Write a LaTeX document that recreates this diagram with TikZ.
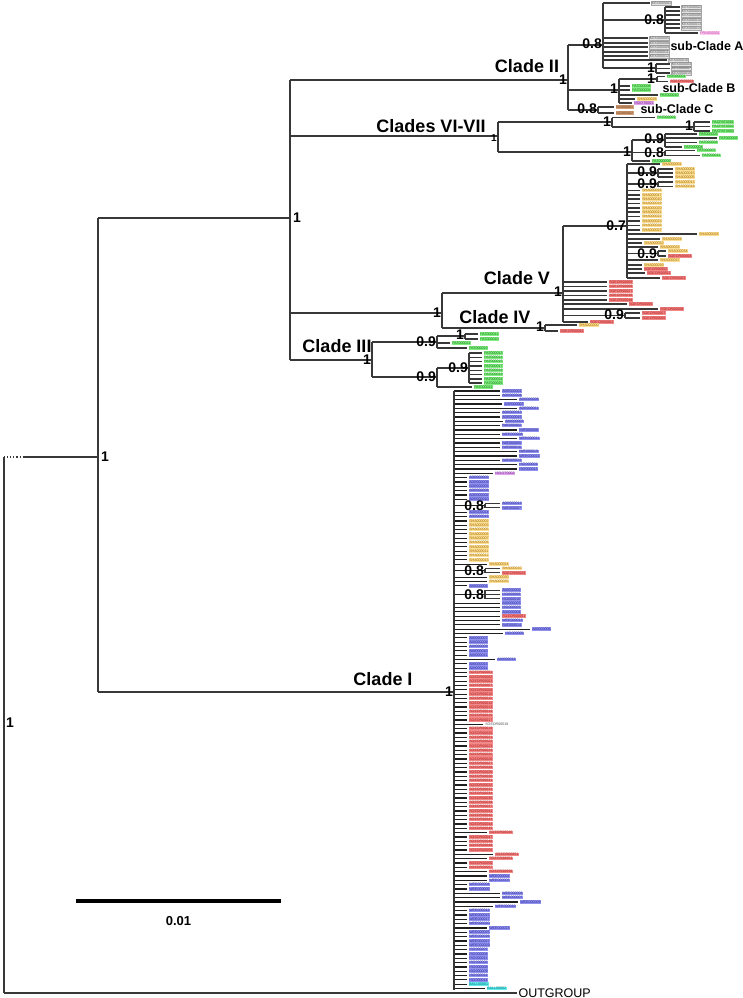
\documentclass[tikz,border=0pt]{standalone}
\usepackage{fontspec}
\setmainfont{Liberation Sans}
\definecolor{bF}{RGB}{146,146,240}\definecolor{bT}{RGB}{40,40,150}
\definecolor{rF}{RGB}{242,136,136}\definecolor{rT}{RGB}{170,20,20}
\definecolor{yF}{RGB}{252,222,150}\definecolor{yT}{RGB}{160,110,0}
\definecolor{gF}{RGB}{130,238,130}\definecolor{gT}{RGB}{20,120,20}
\definecolor{kF}{RGB}{228,228,228}\definecolor{kT}{RGB}{90,90,90}
\definecolor{pF}{RGB}{222,164,236}\definecolor{pT}{RGB}{120,40,140}
\definecolor{nF}{RGB}{212,162,122}\definecolor{nT}{RGB}{110,55,20}
\definecolor{cF}{RGB}{100,236,236}\definecolor{cT}{RGB}{0,110,120}
\definecolor{mF}{RGB}{250,205,240}\definecolor{mT}{RGB}{200,60,170}
\begin{document}
\begin{tikzpicture}[x=1pt,y=-1pt,
  br/.style={draw=black!78, line width=1.1pt},
  tb/.style={draw=black!88, line width=1.2pt},
  nl/.style={font=\fontsize{14}{14}\selectfont\bfseries, inner sep=0pt},
  nls/.style={font=\fontsize{10}{10}\selectfont\bfseries, inner sep=0pt},
  cl/.style={font=\fontsize{18}{18}\selectfont\bfseries, inner sep=0pt},
  scl/.style={font=\fontsize{12.5}{12.5}\selectfont\bfseries, inner sep=0pt},
  tl/.style={font=\fontsize{3.6}{3.6}\selectfont, inner sep=0.5pt, anchor=west, xshift=1.2pt},
  tBl/.style={tl, fill=bF, text=bT},
  tRd/.style={tl, fill=rF, text=rT},
  tYe/.style={tl, fill=yF, text=yT},
  tGr/.style={tl, fill=gF, text=gT},
  tGy/.style={tl, fill=kF, draw=gray!70, line width=0.3pt, text=kT},
  tPu/.style={tl, fill=pF, text=pT},
  tBn/.style={tl, fill=nF, text=nT},
  tCy/.style={tl, fill=cF, text=cT},
  tPk/.style={tl, fill=mF, text=mT},
  tWh/.style={tl, text=black!70}]
\useasboundingbox (0,0) rectangle (742,998);

% ---------- main nodes ----------
\coordinate (nRoot) at (4,725);
\coordinate (nIn) at (98,457);
\coordinate (nUp) at (290,218);
\coordinate (nII) at (568,80);
\coordinate (nVI) at (498,136);
\coordinate (nVIV) at (442,313);
\coordinate (nV) at (563,293);
\coordinate (nIV) at (545,328);
\coordinate (nIII) at (372,360);
\coordinate (nI) at (454,692);

% root
\draw[br] (4,457) -- (4,993);
\draw[br,dotted] (4,457) -- (24,457);
\draw[br] (24,457) -- (nIn);
\draw[br] (4,993) -- (517,993) node[anchor=west, inner sep=1pt, font=\fontsize{12.5}{12.5}\selectfont] (og) {OUTGROUP};
\node[nl, anchor=west] (lRoot) at (6,723) {1};

% ingroup
\draw[br] (98,218) -- (98,692);
\node[nl, anchor=west] (lIn) at (101,457) {1};
\draw[br] (98,218) -- (nUp);
\draw[br] (98,692) -- (nI);

% upper polytomy
\draw[br] (290,80) -- (290,360);
\node[nl, anchor=west] (lUp) at (293,218) {1};

% ---------- Clade II ----------
\draw[br] (290,80) -- (nII);
\node[cl] (tII) at (527,66) {Clade II};
\draw[br] (568,45) -- (568,110);
\node[nl, anchor=east] at (567,80) {1};
% sub-clade A
\draw[br] (568,45) -- (603,45);
\node[nl, anchor=east] at (602,44) {0.8};
\draw[br] (603,3) -- (603,68);
\draw[br] (603,3) -- (650,3) node[tGy] {KEX000001};
\draw[br] (603,20) -- (665,20);
\node[nl, anchor=east] at (664,20) {0.8};
\draw[br] (665,7) -- (665,33);
\foreach \y/\t in {7/KEX000002,11/KEX000004,15/KEX000006,20/KEX000010,24/KEX000013,28/KEX000014}
  \draw[br] (665,\y) -- (680,\y) node[tGy] {\t};
\draw[br] (665,33) -- (698,33) node[tPk] {PRN000001};
\foreach \y/\t in {38/KEX000005,43/KEX000008,47/KEX000009,52/KEX000011,56/KEX000012}
  \draw[br] (603,\y) -- (648,\y) node[tGy] {\t};
\draw[br] (603,60) -- (667,60) node[tGy] {KEX000016};
\draw[br] (603,68) -- (656,68);
\node[nl, anchor=east] at (655,68) {1};
\draw[br] (656,64) -- (656,73);
\foreach \y/\t in {64/KEX000003,68.5/KEX000007,73/KEX000015}
  \draw[br] (656,\y) -- (670,\y) node[tGy] {\t};
\node[scl] (tA) at (707,46) {sub-Clade A};
% sub-clade B
\draw[br] (568,90) -- (619,90);
\node[nl, anchor=east] at (618,89) {1};
\draw[br] (619,79) -- (619,103);
\draw[br] (619,79) -- (657,79);
\node[nl, anchor=east] at (655,79) {1};
\draw[br] (657,76.5) -- (657,81.5);
\draw[br] (657,76.5) -- (665,76.5) node[tGr] {PAT000001};
\draw[br] (657,81.5) -- (668,81.5) node[tRd] {SGEOR00003};
\draw[br] (619,86) -- (630,86) node[tGr] {PAT000008};
\draw[br] (619,90) -- (630,90) node[tGr] {PAT000005};
\draw[br] (619,95) -- (658,95) node[tGr] {PAT000010};
\draw[br] (619,99) -- (635,99) node[tYe] {SHA000028};
\draw[br] (619,103) -- (632,103) node[tPu] {ISOOT0001};
\node[scl] (tB) at (699,88.5) {sub-Clade B};
% sub-clade C
\draw[br] (568,110) -- (598,110);
\node[nl, anchor=east] at (597,109) {0.8};
\draw[br] (598,107) -- (598,113);
\draw[br] (598,107) -- (614,107) node[tBn] {NZ000001};
\draw[br] (598,113) -- (614,113) node[tBn] {NZ000002};
\node[scl] (tC) at (677,109.5) {sub-Clade C};

% ---------- Clades VI-VII ----------
\draw[br] (290,136) -- (nVI);
\node[cl] (tVI) at (431,126) {Clades VI-VII};
\node[nls, anchor=east] at (497,138) {1};
\draw[br] (498,122) -- (498,152);
\draw[br] (498,122) -- (612,122);
\node[nl, anchor=east] at (611,122) {1};
\draw[br] (612,117.5) -- (612,127);
\draw[br] (612,117.5) -- (655,117.5) node[tGr] {PAT000002};
\draw[br] (612,127) -- (694,127);
\node[nl, anchor=east] at (693,126) {1};
\draw[br] (694,122) -- (694,131);
\foreach \y/\t in {122/PACPAT0001,126.5/PACPAT0002,131/PACPAT0003}
  \draw[br] (694,\y) -- (710,\y) node[tGr] {\t};
\draw[br] (498,152) -- (632,152);
\node[nl, anchor=east] at (631,152) {1};
\draw[br] (632,140) -- (632,161);
\draw[br] (632,140) -- (665,140);
\node[nl, anchor=east] at (664,139) {0.9};
\draw[br] (665,134) -- (665,147);
\foreach \y/\e/\t in {134/697/PAT000003,138/717/PAT000006,142.5/697/PAT000008,147/682/PAT000004}
  \draw[br] (665,\y) -- (\e,\y) node[tGr] {\t};
\draw[br] (632,152.5) -- (665,152.5);
\node[nl, anchor=east] at (664,152.5) {0.8};
\draw[br] (665,150.5) -- (665,155.5);
\draw[br] (665,150.5) -- (695,150.5) node[tGr] {PAT000007};
\draw[br] (665,155.5) -- (700,155.5) node[tGr] {PAT000011};
\draw[br] (632,161) -- (650,161) node[tGr] {PAT000009};

% ---------- Clades V + IV ----------
\draw[br] (290,313) -- (nVIV);
\node[nl, anchor=east] at (441,313) {1};
\draw[br] (442,293) -- (442,328);
% Clade V
\draw[br] (442,293) -- (nV);
\node[cl] (tV) at (517,278) {Clade V};
\node[nl, anchor=east] at (562,292) {1};
\draw[br] (563,226) -- (563,322);
\draw[br] (563,226) -- (627,226);
\node[nl, anchor=east] at (626,226) {0.7};
\draw[br] (627,164) -- (627,278);
\foreach \y/\e/\s/\t in {164/660/tYe/SHA000001,
  190.5/640/tYe/SHA000016,195/640/tYe/SHA000017,199/640/tYe/SHA000010,203.5/640/tYe/SHA000019,
  208/640/tYe/SHA000020,212/640/tYe/SHA000021,216.5/640/tYe/SHA000022,221/640/tYe/SHA000023,
  225.5/640/tYe/SHA000026,230/640/tYe/SHA000027,
  234/697/tYe/SHA000028,239/660/tYe/SHA000029,243/642/tYe/SHA000032,247/658/tYe/SHA000033,
  260/658/tYe/SHA000037,265/642/tYe/SHA000039,269/642/tRd/SGEOR00002,273/645/tRd/SGEOR00001,
  278/660/tRd/SGEOR00003}
  \draw[br] (627,\y) -- (\e,\y) node[\s] {\t};
\draw[br] (627,173) -- (658,173);
\node[nl, anchor=east] at (657,172) {0.9};
\draw[br] (658,169) -- (658,177);
\foreach \y/\t in {169/SHA000004,173/SHA000015,177/SHA000005}
  \draw[br] (658,\y) -- (673,\y) node[tYe] {\t};
\draw[br] (627,184) -- (658,184);
\node[nl, anchor=east] at (657,183.5) {0.9};
\draw[br] (658,182) -- (658,186.5);
\foreach \y/\t in {182/SHA000013,186.5/SHA000018}
  \draw[br] (658,\y) -- (673,\y) node[tYe] {\t};
\draw[br] (627,253.5) -- (658,253.5);
\node[nl, anchor=east] at (657,254) {0.9};
\draw[br] (658,251) -- (658,256);
\draw[br] (658,251) -- (666,251) node[tYe] {SHA000034};
\draw[br] (658,256) -- (666,256) node[tRd] {SGEOR00004};
\foreach \y/\e/\t in {282/607/SGEOR00006,286.5/607/SGEOR00009,291/607/SGEOR00027,295.5/607/SGEOR00036,300/607/SGEOR00048,304/627/SGEOR00005,309/658/SGEOR00008,322/588/SGEOR00062}
  \draw[br] (563,\y) -- (\e,\y) node[tRd] {\t};
\draw[br] (563,315.5) -- (625,315.5);
\node[nl, anchor=east] at (624,314.5) {0.9};
\draw[br] (625,313) -- (625,318);
\draw[br] (625,313) -- (640,313) node[tRd] {SGEOR00007};
\draw[br] (625,318) -- (640,318) node[tRd] {SGEOR00060};
% Clade IV
\draw[br] (442,328) -- (nIV);
\node[cl] (tIV) at (495,317) {Clade IV};
\node[nl, anchor=east] at (544,327) {1};
\draw[br] (545,325) -- (545,331);
\draw[br] (545,325) -- (577,325) node[tYe] {SHA000000};
\draw[br] (545,331) -- (558,331) node[tRd] {SGEOR00064};

% ---------- Clade III ----------
\draw[br] (290,360) -- (nIII);
\node[cl] (tIII) at (337,346) {Clade III};
\node[nl, anchor=east] at (371,360) {1};
\draw[br] (372,342) -- (372,377);
\draw[br] (372,342) -- (437,342);
\node[nl, anchor=east] at (436,342) {0.9};
\draw[br] (437,336) -- (437,348);
\draw[br] (437,336) -- (465,336);
\node[nl, anchor=east] at (464,334.5) {1};
\draw[br] (465,334) -- (465,339);
\draw[br] (465,334) -- (478,334) node[tGr] {PAT000012};
\draw[br] (465,339) -- (478,339) node[tGr] {PAT000010};
\draw[br] (437,343) -- (450,343) node[tGr] {PAT000021};
\draw[br] (437,348) -- (467,348) node[tGr] {PAT000023};
\draw[br] (372,377) -- (437,377);
\node[nl, anchor=east] at (436,377) {0.9};
\draw[br] (437,368) -- (437,387);
\draw[br] (437,368) -- (469,368);
\node[nl, anchor=east] at (468,368) {0.9};
\draw[br] (469,353) -- (469,383);
\foreach \y/\t in {353/PAT000013,357.3/PAT000014,361.6/PAT000015,366/PAT000017,370.3/PAT000018,374.6/PAT000019,379/PAT000024,383/PAT000025}
  \draw[br] (469,\y) -- (482,\y) node[tGr] {\t};
\draw[br] (437,387) -- (472,387) node[tGr] {PAT000022};

% ---------- Clade I ----------
\node[cl] (tI) at (383,679) {Clade I};
\foreach \i/\e/\s/\t in {
 0/500/tBl/ADE000001,1/500/tBl/ADE000004,2/517/tBl/ADE000006,3/502/tBl/ADE000007,
 4/517/tBl/ADE000011,5/500/tBl/ADE000013,6/500/tBl/ADE000015,7/503/tBl/AMI000005,
 8/500/tBl/IWE000002,9/517/tBl/IWE000008,10/500/tBl/WEE000008,11/517/tBl/WEE000011,
 12/500/tBl/IWE000005,13/500/tBl/IWE000016,14/517/tBl/IWE000019,15/517/tBl/WEE000022,
 16/500/tBl/IWE000024,17/517/tBl/ISO000001,18/517/tBl/ISO000013,19/493/tPu/ISOOT0002,
 20/467/tBl/ADE000003,21/467/tBl/ADE000009,22/467/tBl/ADE000005,23/467/tBl/ADE000008,
 24/467/tBl/ADE000002,25/467/tBl/ADE000010,28/467/tBl/ADE000014,29/467/tBl/ADE000016,
 30/467/tYe/SHA000002,31/467/tYe/SHA000003,32/467/tYe/SHA000005,33/467/tYe/SHA000006,
 34/467/tYe/SHA000007,35/467/tYe/SHA000008,36/467/tYe/SHA000009,37/467/tYe/SHA000011,
 38/467/tYe/SHA000012,39/467/tYe/SHA000013,40/487/tYe/SHA000014,
 43/487/tYe/SHA000030,44/487/tYe/SHA000035,45/467/tBl/AMI000001,
 49/500/tBl/AMI000003,50/500/tBl/ISO000003,51/500/tBl/AMI000004,52/500/tRd/SGEOR00061,
 53/500/tBl/WEE000013,54/500/tBl/IWE000014,55/530/tBl/AMI000006,56/503/tBl/ISO000005,
 57/467/tBl/AMI000007,58/467/tBl/AMI000008,59/467/tBl/AMI000009,60/467/tBl/AMI000010,
 61/467/tBl/AMI000011,62/495/tBl/AMI000012,63/467/tBl/AMI000013,64/467/tBl/AMI000014,
 77/483/tWh/SGEOR00018,
 102/487/tRd/SGEOR00046,103/467/tRd/SGEOR00047,104/467/tRd/SGEOR00048,105/467/tRd/SGEOR00049,
 106/467/tRd/SGEOR00050,107/493/tRd/SGEOR00051,108/487/tRd/SGEOR00052,109/467/tRd/SGEOR00056,
 110/467/tRd/SGEOR00057,111/487/tRd/SGEOR00058,
 112/487/tBl/WEE000001,113/487/tBl/WEE000003,114/467/tBl/WEE000004,115/467/tBl/WEE000005,
 116/500/tBl/WEE000006,117/500/tBl/WEE000007,118/518/tBl/WEE000009,119/493/tBl/WEE000010,
 120/467/tBl/WEE000012,121/467/tBl/WEE000015,122/467/tBl/WEE000017,123/467/tBl/WEE000020,
 124/487/tBl/WEE000023,125/467/tBl/WEE000025,126/467/tBl/WEE000026,127/467/tBl/WEE000027,
 128/467/tBl/WEE000029,129/467/tBl/ISO000007,130/467/tBl/ISO000004,131/467/tBl/ISO000011,
 132/467/tBl/ISO000002,133/467/tBl/ISO000008,134/467/tBl/ISO000009,135/467/tBl/ISO000012,
 136/467/tBl/ISO000014,137/467/tCy/BALL00001,138/485/tCy/BALL00002}
 {\pgfmathsetmacro\yy{391+4.33*\i}
  \draw[tb] (454,\yy) -- (\e,\yy) node[\s] {\t};}
\foreach \i/\n in {65/01,66/02,67/03,68/07,69/08,70/10,71/11,72/12,73/13,74/14,75/15,76/17,
 78/19,79/20,80/21,81/22,82/23,83/24,84/25,85/26,86/27,87/28,88/29,89/30,90/31,91/32,92/33,
 93/34,94/35,95/36,96/37,97/41,98/42,99/43,100/44,101/45}
 {\pgfmathsetmacro\yy{391+4.33*\i}
  \draw[tb] (454,\yy) -- (467,\yy) node[tRd] {SGEOR000\n};}
% 0.8 sub-nodes inside Clade I
\draw[tb] (454,505.7) -- (485,505.7);
\node[nl, anchor=east] at (484,505.7) {0.8};
\draw[br] (485,503.6) -- (485,507.9);
\draw[br] (485,503.6) -- (500,503.6) node[tBl] {ADE000012};
\draw[br] (485,507.9) -- (500,507.9) node[tBl] {IWE000007};
\draw[tb] (454,570.7) -- (485,570.7);
\node[nl, anchor=east] at (484,570.7) {0.8};
\draw[br] (485,568.5) -- (485,572.9);
\draw[br] (485,568.5) -- (500,568.5) node[tYe] {SHA000010};
\draw[br] (485,572.9) -- (500,572.9) node[tRd] {SGEOR00022};
\draw[tb] (454,594.5) -- (485,594.5);
\node[nl, anchor=east] at (484,594.5) {0.8};
\draw[br] (485,590.2) -- (485,598.8);
\foreach \y/\t in {590.2/AMI000002,594.5/ISO000006,598.8/ISO000010}
  \draw[br] (485,\y) -- (500,\y) node[tBl] {\t};
\draw[br] (454,391) -- (454,989.6);
\node[nl, anchor=east] at (453,692) {1};

% ---------- scale bar ----------
\draw[line width=3.5pt] (76,901) coordinate (sb1) -- (281,901) coordinate (sb2);
\node[font=\fontsize{13}{13}\selectfont\bfseries, inner sep=0pt] (sbl) at (178.5,921) {0.01};
\end{tikzpicture}
\end{document}
